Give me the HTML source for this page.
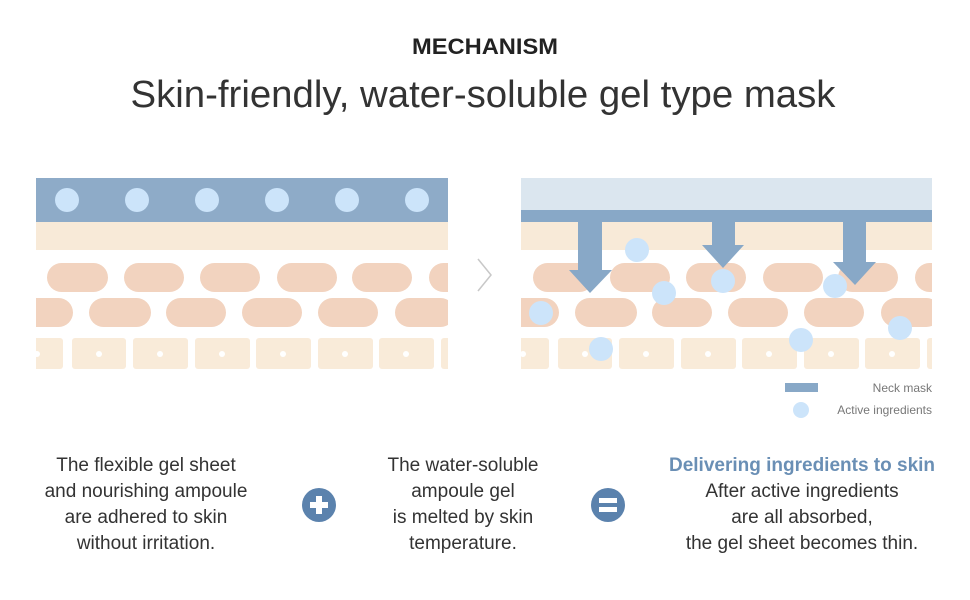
<!DOCTYPE html>
<html><head><meta charset="utf-8"><style>html,body{margin:0;padding:0;background:#fff}svg{display:block}</style></head><body>
<svg width="970" height="600" viewBox="0 0 970 600" xmlns="http://www.w3.org/2000/svg" font-family="Liberation Sans, sans-serif">
<rect width="970" height="600" fill="#fff"/>
<text x="485" y="54" text-anchor="middle" font-size="22" font-weight="bold" fill="#222" textLength="146" lengthAdjust="spacingAndGlyphs">MECHANISM</text>
<text x="483" y="107" text-anchor="middle" font-size="38" fill="#333" textLength="705" lengthAdjust="spacingAndGlyphs">Skin-friendly, water-soluble gel type mask</text>
<defs>
<clipPath id="cl"><rect x="36" y="170" width="412" height="210"/></clipPath>
<clipPath id="cr"><rect x="521" y="170" width="411" height="210"/></clipPath>
<g id="skin">
<rect x="-40" y="222" width="600" height="28" fill="#f8ead8"/>
<g fill="#f2d3bf">
<rect x="-29" y="263" width="60" height="29" rx="14.5"/><rect x="47" y="263" width="61" height="29" rx="14.5"/><rect x="124" y="263" width="60" height="29" rx="14.5"/><rect x="200" y="263" width="60" height="29" rx="14.5"/><rect x="277" y="263" width="60" height="29" rx="14.5"/><rect x="352" y="263" width="60" height="29" rx="14.5"/><rect x="429" y="263" width="60" height="29" rx="14.5"/>
<rect x="13" y="298" width="60" height="29" rx="14.5"/><rect x="89" y="298" width="62" height="29" rx="14.5"/><rect x="166" y="298" width="60" height="29" rx="14.5"/><rect x="242" y="298" width="60" height="29" rx="14.5"/><rect x="318" y="298" width="60" height="29" rx="14.5"/><rect x="395" y="298" width="60" height="29" rx="14.5"/>
</g>
<g fill="#f9ebd9">
<rect x="8" y="338" width="55" height="31" rx="3"/><rect x="72" y="338" width="54" height="31" rx="3"/><rect x="133" y="338" width="55" height="31" rx="3"/><rect x="195" y="338" width="55" height="31" rx="3"/><rect x="256" y="338" width="55" height="31" rx="3"/><rect x="318" y="338" width="55" height="31" rx="3"/><rect x="379" y="338" width="55" height="31" rx="3"/><rect x="441" y="338" width="55" height="31" rx="3"/>
</g>
<g fill="#fff">
<circle cx="37" cy="354" r="3"/><circle cx="99" cy="354" r="3"/><circle cx="160" cy="354" r="3"/><circle cx="222" cy="354" r="3"/><circle cx="283" cy="354" r="3"/><circle cx="345" cy="354" r="3"/><circle cx="406" cy="354" r="3"/>
</g>
</g>
</defs>
<g clip-path="url(#cl)">
<use href="#skin"/>
<rect x="36" y="178" width="412" height="44" fill="#8eabc8"/>
<g fill="#cce4fa"><circle cx="67" cy="200" r="12"/><circle cx="137" cy="200" r="12"/><circle cx="207" cy="200" r="12"/><circle cx="277" cy="200" r="12"/><circle cx="347" cy="200" r="12"/><circle cx="417" cy="200" r="12"/></g>
</g>
<polyline points="478,259 491,275 478,291" fill="none" stroke="#c8c8c8" stroke-width="1.5"/>
<g clip-path="url(#cr)">
<use href="#skin" x="486"/>
<rect x="521" y="178" width="411" height="32" fill="#dbe6ef"/>
<rect x="521" y="210" width="411" height="12" fill="#88a8c7"/>
<g fill="#88a8c7">
<rect x="578" y="220" width="24" height="52"/><polygon points="569,270 612,270 590,293"/>
<rect x="712" y="220" width="23" height="27"/><polygon points="702,245 744,245 723,268"/>
<rect x="843" y="220" width="23" height="44"/><polygon points="833,262 876,262 855,285"/>
</g>
<g fill="#cce4fa"><circle cx="637" cy="250" r="12"/><circle cx="664" cy="293" r="12"/><circle cx="723" cy="281" r="12"/><circle cx="541" cy="313" r="12"/><circle cx="835" cy="286" r="12"/><circle cx="900" cy="328" r="12"/><circle cx="601" cy="349" r="12"/><circle cx="801" cy="340" r="12"/></g>
</g>
<rect x="785" y="383" width="33" height="9" fill="#88a8c7"/>
<circle cx="801" cy="410" r="8" fill="#cce4fa"/>
<text x="932" y="392" text-anchor="end" font-size="12" fill="#777">Neck mask</text>
<text x="932" y="414" text-anchor="end" font-size="12" fill="#777">Active ingredients</text>
<g font-size="19" fill="#333" text-anchor="middle">
<text x="146" y="471">The flexible gel sheet</text>
<text x="146" y="497">and nourishing ampoule</text>
<text x="146" y="523">are adhered to skin</text>
<text x="146" y="549">without irritation.</text>
<text x="463" y="471">The water-soluble</text>
<text x="463" y="497">ampoule gel</text>
<text x="463" y="523">is melted by skin</text>
<text x="463" y="549">temperature.</text>
<text x="802" y="471" font-weight="bold" fill="#6a8fb5">Delivering ingredients to skin</text>
<text x="802" y="497">After active ingredients</text>
<text x="802" y="523">are all absorbed,</text>
<text x="802" y="549">the gel sheet becomes thin.</text>
</g>
<circle cx="319" cy="505" r="17" fill="#5b82ad"/>
<rect x="310" y="502" width="18" height="6" fill="#fff"/><rect x="316" y="496" width="6" height="18" fill="#fff"/>
<circle cx="608" cy="505" r="17" fill="#5b82ad"/>
<rect x="599" y="498" width="18" height="5" fill="#fff"/><rect x="599" y="507" width="18" height="5" fill="#fff"/>
</svg>
</body></html>
